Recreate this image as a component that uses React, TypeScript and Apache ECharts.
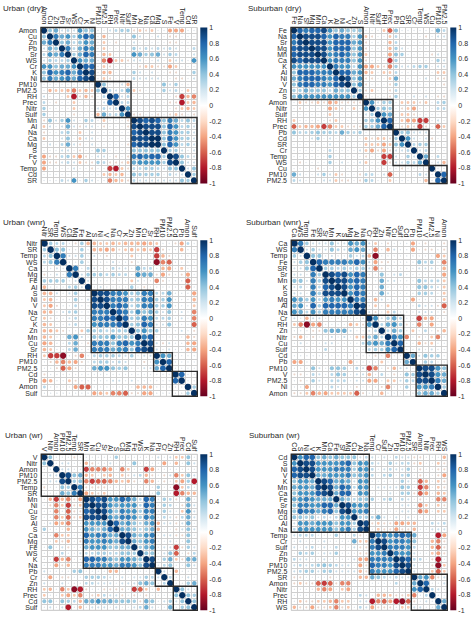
import React, { useEffect, useRef } from "react";
import * as echarts from "echarts";

// Correlations, in tenths, upper triangle of each matrix read row by row (diagonal first).
const urbanDryLabels = ["Amon","Cu","Zn","Pb","Sr","WS","Cr","K","Ni","PM10","PM2.5","RH","Prec","Nitr","Sulf","Mn","Al","Na","Ca","Mg","S","Fe","V","Temp","Cd","SR"];
const urbanDryClusters = [9, 6, 11];
const urbanDryValues = [
  [10,4,5,1,2,1,6,4,4,0,0,1,2,3,3,-1,-2,-1,-2,0,0,-4,-4,-4,0,0],
  [10,7,5,6,3,6,8,7,0,-3,0,0,0,0,4,1,0,0,1,0,-1,-1,0,0,0],
  [10,4,5,2,4,6,5,0,-2,0,-1,0,0,1,0,0,0,0,0,-1,-1,0,0,0],
  [10,7,2,5,7,6,0,-2,0,0,0,0,3,1,2,1,2,1,2,1,0,0,2],
  [10,3,5,8,7,0,-3,-2,0,0,0,6,5,3,4,5,1,3,2,0,0,1],
  [10,6,5,5,0,-5,-8,-2,-2,-1,1,1,0,0,1,0,-2,1,1,0,6],
  [10,8,8,0,-2,-1,0,0,0,0,-1,-2,-2,-1,-1,-4,-2,0,0,0],
  [10,9,0,-3,-3,0,0,0,3,1,0,1,0,0,-1,-1,0,0,3],
  [10,0,-2,-1,0,0,0,2,1,1,1,1,0,0,-1,-1,0,1],
  [10,4,0,0,1,-3,0,0,0,0,0,4,1,3,0,0,0],
  [10,2,1,2,5,-2,-1,0,0,0,3,1,2,0,-2,0],
  [10,8,1,2,0,0,0,0,0,0,0,-1,-7,-3,-5],
  [10,2,2,0,0,0,0,0,0,-1,-1,-8,-2,-3],
  [10,6,0,0,0,0,0,0,0,-1,-2,-3,-2],
  [10,-1,-1,0,0,-1,0,-1,-2,-1,0,-1],
  [10,9,8,9,8,4,7,5,2,4,2],
  [10,9,9,9,4,8,6,2,3,1],
  [10,9,9,4,7,6,3,3,1],
  [10,10,4,8,6,3,3,1],
  [10,4,8,6,2,3,1],
  [10,3,3,1,0,1],
  [10,9,4,2,1],
  [10,4,1,1],
  [10,1,4],
  [10,3],
  [10],
];

const suburbanDryLabels = ["Fe","Na","Sr","Mg","Mn","Ca","K","Al","Ni","V","Zn","S","Amon","Nitr","Sulf","RH","Prec","Pb","Cd","SR","Cr","Temp","WS","Cu","PM10","PM2.5"];
const suburbanDryClusters = [12, 5, 6, 3];
const suburbanDryValues = [
  [10,8,7,8,8,9,6,4,5,4,3,4,0,0,0,-2,-6,4,0,0,0,0,0,0,5,2],
  [10,9,9,9,8,6,8,7,7,3,6,-2,-1,0,0,-2,2,0,0,0,0,-1,0,1,1],
  [10,9,9,9,6,8,8,8,5,6,-1,0,0,0,-3,2,0,0,0,0,0,0,0,0],
  [10,9,9,6,8,8,8,4,6,-1,0,0,0,-3,3,1,0,0,0,0,0,0,0],
  [10,9,6,7,8,7,4,6,-2,0,0,0,-4,4,3,0,0,0,0,-1,1,0],
  [10,6,7,7,7,4,6,-1,0,0,0,-7,3,0,0,0,0,0,0,3,1],
  [10,7,6,6,2,6,-4,-4,-2,-1,-5,3,1,1,2,3,3,0,1,1],
  [10,8,8,5,6,-3,-2,0,-2,-2,2,0,0,0,0,0,0,-2,-2],
  [10,9,4,6,-1,-1,0,0,-2,5,0,0,0,0,1,0,-1,-1],
  [10,4,6,-1,0,0,0,-1,3,0,0,0,0,0,0,0,-1],
  [10,3,-1,-2,0,0,-1,2,0,0,0,0,0,0,0,0],
  [10,-1,0,0,0,-1,3,0,0,1,0,1,0,-1,-1],
  [10,6,1,3,3,0,-2,-2,-2,-1,-2,0,2,3],
  [10,3,4,3,0,-1,-2,-4,0,0,0,2,2],
  [10,6,5,0,-2,-2,-1,0,0,0,0,0],
  [10,8,0,-2,-4,-4,-7,-7,0,1,0],
  [10,0,-1,-2,-1,-7,-1,0,-6,-2],
  [10,3,4,1,1,1,0,0,0],
  [10,6,1,0,1,-1,0,0],
  [10,2,3,3,0,0,0],
  [10,1,2,0,0,0],
  [10,5,0,2,0],
  [10,0,1,-3],
  [10,0,0],
  [10,8],
  [10],
];

const urbanWnrLabels = ["Nitr","SR","Temp","WS","Ca","Mg","Fe","Al","S","Ni","V","Na","Cr","K","Zn","Mn","Cu","Sr","RH","PM10","PM2.5","Cd","Pb","Amon","Sulf"];
const urbanWnrClusters = [8, 10, 3, 4];
const urbanWnrValues = [
  [10,3,2,2,0,-1,3,-3,-3,-2,-2,-3,-2,-3,-3,-3,-4,-3,-2,0,0,-1,-4,2,0],
  [10,4,4,0,0,3,0,-3,-3,-4,-3,-1,-2,-3,-2,-3,-2,-7,-1,0,0,-3,0,0],
  [10,7,1,1,3,0,1,0,-1,0,0,0,-2,0,0,0,-7,-3,-1,0,0,0,0],
  [10,0,0,3,0,0,0,0,1,0,0,-1,0,0,0,-9,-5,-6,0,0,0,0],
  [10,7,0,2,1,0,0,2,1,1,0,5,2,2,0,-3,-4,0,-2,0,0],
  [10,1,3,3,3,2,3,2,2,0,6,5,5,-1,-4,-1,0,-1,-4,0],
  [10,1,0,0,0,0,0,0,-2,1,0,0,-5,-1,0,0,0,-6,0],
  [10,0,1,0,0,0,0,3,0,-1,0,0,0,0,0,0,-6,0],
  [10,9,9,7,7,6,3,4,7,7,2,2,5,0,0,0,-4],
  [10,9,7,7,7,3,4,7,7,3,3,6,0,0,0,-3],
  [10,7,8,7,2,4,7,7,3,3,6,0,0,0,-2],
  [10,8,7,3,6,4,5,3,1,4,0,1,0,-5],
  [10,8,3,4,7,6,2,2,3,0,1,0,-5],
  [10,3,4,8,7,1,1,4,0,0,0,-6],
  [10,4,6,4,3,0,0,0,1,0,-1],
  [10,7,8,0,0,0,0,0,-3,-1],
  [10,9,1,-1,1,0,0,-3,-4],
  [10,1,0,1,0,0,-3,-4],
  [10,6,5,0,0,0,0],
  [10,8,0,0,0,0],
  [10,0,0,0,0],
  [10,8,0,0],
  [10,0,0],
  [10,3],
  [10],
];

const suburbanWnrLabels = ["Ca","WS","Temp","Fe","SR","Sr","Mn","K","S","Mg","Al","Na","Cr","RH","Zn","Nitr","Cu","Sulf","Cd","Pb","PM10","V","PM2.5","Ni","Amon"];
const suburbanWnrClusters = [12, 6, 2, 5];
const suburbanWnrValues = [
  [10,7,3,1,1,1,4,1,1,6,5,6,1,-2,0,-1,0,0,0,-4,0,-1,0,0,-1],
  [10,1,3,1,1,4,2,1,5,6,5,0,-5,0,-3,1,0,0,-4,0,-1,-1,0,-1],
  [10,4,4,0,1,0,0,3,1,2,-3,-9,0,0,0,0,0,0,0,0,0,-4,-2],
  [10,8,7,7,7,7,6,8,6,1,-4,-1,-1,0,0,0,0,4,2,3,0,-5],
  [10,3,3,2,3,2,3,3,1,-5,-1,0,0,0,0,0,1,1,1,0,-3],
  [10,9,8,9,6,8,7,0,0,4,0,1,2,0,0,0,0,0,0,-4],
  [10,9,9,7,8,7,0,0,5,1,1,0,0,0,4,2,2,2,-2],
  [10,9,6,8,7,0,0,5,0,0,0,0,0,4,4,2,1,-2],
  [10,6,8,7,0,0,5,1,0,0,0,0,3,3,2,0,-2],
  [10,7,7,0,-3,1,0,0,0,0,-4,0,0,0,0,-2],
  [10,9,0,-2,0,-2,0,0,0,0,2,1,1,-1,-6],
  [10,1,-1,0,-2,2,0,0,0,1,1,1,0,-1],
  [10,6,1,3,5,2,0,0,-7,-3,-4,0,0],
  [10,2,5,6,3,-1,0,-5,0,-4,0,0],
  [10,2,5,3,0,-2,0,2,0,-1,-3],
  [10,7,6,-5,0,-1,0,-2,-5,0],
  [10,8,0,0,-3,-1,-2,0,0],
  [10,0,0,1,0,1,0,0],
  [10,5,1,4,3,3,0],
  [10,0,3,2,0,0],
  [10,9,9,6,4],
  [10,9,6,5],
  [10,7,5],
  [10,3],
  [10],
];

const urbanWrLabels = ["V","Nitr","Amon","PM10","PM2.5","Temp","SR","Mn","Ni","Cu","Sr","Al","S","Ca","Mg","Fe","WS","K","Na","Pb","Cr","Zn","RH","Prec","Cd","Sulf"];
const urbanWrClusters = [7, 12, 3, 4];
const urbanWrValues = [
  [10,4,0,0,0,-1,0,0,0,0,0,0,3,0,0,0,0,0,0,1,0,1,-2,-2,4,0],
  [10,0,1,1,0,0,-3,-1,0,0,1,0,0,0,4,0,0,0,0,-4,0,-3,0,4,1],
  [10,1,1,0,0,-7,-5,-5,-5,-4,0,-5,-2,0,0,-7,-4,0,0,0,0,0,0,0],
  [10,9,4,5,-3,-2,0,-2,-3,0,-2,-1,1,2,-3,-1,0,-1,1,-5,-2,4,1],
  [10,3,4,-5,-7,-6,-6,-5,-3,-2,-3,-1,0,-5,-3,0,-1,0,-2,-4,3,-8],
  [10,7,-1,-1,-1,-1,0,0,0,0,0,0,0,0,3,0,0,-9,-2,2,0],
  [10,-4,-2,-1,-2,0,0,0,-1,0,1,0,0,4,0,0,-8,-5,-3,-3],
  [10,9,8,9,6,6,8,7,5,2,8,7,0,3,2,-1,0,5,0],
  [10,9,9,6,5,6,6,6,2,8,7,0,3,2,0,-1,5,1],
  [10,9,6,4,7,6,6,3,7,7,0,3,1,0,-2,6,1],
  [10,6,5,7,7,6,3,7,6,0,2,1,-1,2,5,1],
  [10,8,5,6,4,2,5,6,-3,1,1,-1,1,5,0],
  [10,5,5,4,2,4,5,-3,0,0,-1,1,4,1],
  [10,9,5,4,6,7,0,1,1,-1,-1,4,0],
  [10,5,4,6,7,0,0,1,0,0,4,0],
  [10,3,5,6,0,1,1,-7,-1,3,1],
  [10,4,4,0,1,4,-6,0,-1,2],
  [10,9,0,3,5,-2,-1,5,5],
  [10,0,2,4,0,0,4,1],
  [10,1,0,-3,0,0,0],
  [10,2,0,0,1,0],
  [10,0,0,3,5],
  [10,4,1,0],
  [10,4,3],
  [10,4],
  [10],
];

const suburbanWrLabels = ["Cd","S","Ni","V","K","Mn","Ca","Fe","Sr","Mg","Cu","Al","Na","Temp","Cr","Sulf","Zn","Pb","PM10","PM2.5","SR","Amon","Nitr","Prec","RH","WS"];
const suburbanWrClusters = [13, 7, 6];
const suburbanWrValues = [
  [10,6,8,8,4,5,4,5,4,4,4,1,2,1,0,1,0,2,1,1,-1,-1,0,0,0,-3],
  [10,9,9,6,6,6,6,7,8,4,6,6,2,1,0,3,1,2,2,-1,-2,0,0,-2,-1],
  [10,9,6,6,6,7,7,7,3,6,6,2,0,1,2,1,1,3,0,-1,0,0,-1,-1],
  [10,5,5,6,6,6,7,4,5,6,2,0,2,3,0,2,3,0,-1,0,0,-1,-4],
  [10,9,8,5,6,5,1,6,6,0,0,0,0,0,3,1,0,-6,-3,0,-2,-1],
  [10,9,5,8,7,2,6,6,0,1,1,1,1,4,3,0,-7,-5,0,-2,-1],
  [10,5,8,8,1,6,6,0,0,0,1,0,3,3,-1,-6,-4,0,-3,-2],
  [10,5,4,2,4,4,3,0,2,3,0,2,1,0,-1,0,0,-5,-5],
  [10,9,6,6,6,0,0,0,0,0,1,1,0,-5,-2,0,-2,-1],
  [10,6,6,7,0,0,0,0,0,1,1,0,-5,-4,0,-2,-2],
  [10,3,3,2,5,1,0,1,0,1,0,0,0,0,0,0],
  [10,9,-1,-2,-1,-1,-4,-4,-3,-3,0,0,2,1,2],
  [10,0,-2,-1,-1,-4,-1,-1,-3,0,0,1,1,1],
  [10,7,7,6,7,8,7,5,0,0,0,-8,-4],
  [10,9,6,7,7,6,4,0,0,-3,-5,-1],
  [10,7,7,7,6,2,0,0,-3,-6,-1],
  [10,7,6,6,1,0,0,-2,-4,-1],
  [10,9,8,2,2,0,-1,-8,0],
  [10,9,1,0,0,-1,-9,-2],
  [10,1,0,0,-2,-6,-2],
  [10,5,6,-5,-1,1],
  [10,8,0,0,1],
  [10,2,1,0],
  [10,0,0],
  [10,5],
  [10],
];

const colorbarTicks = [-1,-0.8,-0.6,-0.4,-0.2,0,0.2,0.4,0.6,0.8,1];
const palette = ["#67001F","#B2182B","#D6604D","#F4A582","#FDDBC7","#FFFFFF","#D1E5F0","#92C5DE","#4393C3","#2166AC","#053061"];
// Same scale for the dots; the centre is kept faintly visible as the tiny dots are in the reference.
const dotPalette = ["#67001F","#B2182B","#D6604D","#F4A582","#F8C8AE","#D8E0E6","#B8D8EA","#92C5DE","#4393C3","#2166AC","#053061"];

const panels = [
  { title: "Urban (dry)", labels: urbanDryLabels, clusters: urbanDryClusters, values: urbanDryValues, x: 41, y: 27.5, tx: 3, ty: 4.5, barX: 200.3, barW: 7 },
  { title: "Suburban (dry)", labels: suburbanDryLabels, clusters: suburbanDryClusters, values: suburbanDryValues, x: 291, y: 27.5, tx: 248, ty: 4.5, barX: 450.3, barW: 6 },
  { title: "Urban (wnr)", labels: urbanWnrLabels, clusters: urbanWnrClusters, values: urbanWnrValues, x: 41.3, y: 240.3, tx: 3, ty: 218.5, barX: 200.3, barW: 7 },
  { title: "Suburban (wnr)", labels: suburbanWnrLabels, clusters: suburbanWnrClusters, values: suburbanWnrValues, x: 291.3, y: 240.3, tx: 246, ty: 218.5, barX: 450.3, barW: 6 },
  { title: "Urban (wr)", labels: urbanWrLabels, clusters: urbanWrClusters, values: urbanWrValues, x: 41.3, y: 454.3, tx: 5, ty: 431.5, barX: 200.3, barW: 7 },
  { title: "Suburban (wr)", labels: suburbanWrLabels, clusters: suburbanWrClusters, values: suburbanWrValues, x: 291.3, y: 454.3, tx: 249, ty: 431.5, barX: 450.3, barW: 6 },
];

const SIZE = 156;
const FONT = "'Liberation Sans', Arial, sans-serif";

function buildOption() {
  const title: any[] = [];
  const grid: any[] = [];
  const xAxis: any[] = [];
  const yAxis: any[] = [];
  const series: any[] = [];
  const visualMap: any[] = [];

  panels.forEach((p, k) => {
    title.push({
      text: p.title, left: p.tx, top: p.ty, padding: 0,
      textStyle: { fontSize: 8, fontWeight: "normal", color: "#2a2a2a", fontFamily: FONT },
    });
    const cell = SIZE / p.labels.length;
    grid.push({ left: p.x, top: p.y, width: SIZE, height: SIZE, show: true, borderColor: "#c6c6c6", borderWidth: 1, backgroundColor: "#fff" });
    const splitLine = { show: true, interval: 0, lineStyle: { color: "#cfcfcf", width: 1 } };
    const label = { interval: 0, fontSize: 7, color: "#2a2a2a", fontFamily: FONT, hideOverlap: false };
    xAxis.push({
      gridIndex: 2 * k, type: "category", position: "top", data: p.labels,
      axisLine: { show: false }, axisTick: { show: false }, splitLine,
      axisLabel: { ...label, rotate: 90, margin: 3 },
    });
    yAxis.push({
      gridIndex: 2 * k, type: "category", inverse: true, data: p.labels,
      axisLine: { show: false }, axisTick: { show: false }, splitLine,
      axisLabel: { ...label, margin: 4 },
    });
    const data: number[][] = [];
    p.values.forEach((row, i) => {
      row.forEach((v, d) => {
        const j = i + d;
        data.push([j, i, v / 10]);
        if (d > 0) data.push([i, j, v / 10]);
      });
    });
    const seriesIdx = series.length;
    series.push({
      type: "scatter", xAxisIndex: 2 * k, yAxisIndex: 2 * k, data,
      symbol: "circle", z: 3,
      symbolSize: (val: number[]) => Math.max(1.3, cell * 1.05 * Math.sqrt(Math.abs(val[2]))),
      itemStyle: { opacity: 1 },
    });
    visualMap.push({
      show: false, type: "continuous", seriesIndex: seriesIdx, dimension: 2, min: -1, max: 1,
      inRange: { color: dotPalette },
    });
    // Hierarchical cluster boxes, from the cluster sizes
    let start = 0;
    const boxes = p.clusters.map((n) => {
      const b = [start, start + n - 1];
      start += n;
      return b;
    });
    series.push({
      type: "custom", xAxisIndex: 2 * k, yAxisIndex: 2 * k, data: boxes, z: 5, clip: false,
      encode: { x: 0, y: 1 },
      renderItem: (_: any, api: any) => {
        const a = api.value(0);
        const b = api.value(1);
        const tl = api.coord([a, a]);
        const sz = api.size([1, 1]);
        const w = sz[0] * (b - a + 1);
        return {
          type: "rect",
          shape: { x: tl[0] - sz[0] / 2, y: tl[1] - sz[1] / 2, width: w, height: w },
          style: { fill: "none", stroke: "#2c2c2c", lineWidth: 1.4 },
        };
      },
    });

    // Colour bar
    grid.push({ left: p.barX, top: p.y, width: p.barW, height: SIZE });
    xAxis.push({ gridIndex: 2 * k + 1, type: "value", min: 0, max: 1, show: false });
    yAxis.push({
      gridIndex: 2 * k + 1, type: "value", position: "right", min: colorbarTicks[0], max: colorbarTicks[10], interval: 0.2,
      splitLine: { show: false }, axisLine: { show: false },
      axisTick: { show: false },
      axisLabel: { fontSize: 7, color: "#2a2a2a", fontFamily: FONT, margin: 2, formatter: (v: number) => String(Math.round(v * 10) / 10) },
    });
    series.push({
      type: "custom", xAxisIndex: 2 * k + 1, yAxisIndex: 2 * k + 1, data: [[0, 1, 1, -1]], z: 2,
      encode: { x: [0, 2], y: [1, 3] },
      renderItem: (_: any, api: any) => {
        const a = api.coord([api.value(0), api.value(1)]);
        const b = api.coord([api.value(2), api.value(3)]);
        return {
          type: "rect",
          shape: { x: a[0], y: a[1], width: b[0] - a[0], height: b[1] - a[1] },
          style: {
            fill: new echarts.graphic.LinearGradient(0, 0, 0, 1,
              [...palette].reverse().map((color, i) => ({ offset: i / 10, color }))),
          },
        };
      },
    });
  });

  return { animation: false, backgroundColor: "#fff", title, grid, xAxis, yAxis, series, visualMap };
}

export default function App() {
  const ref = useRef<HTMLDivElement>(null);
  useEffect(() => {
    const chart = echarts.init(ref.current!, undefined, { renderer: "svg" });
    chart.setOption(buildOption() as any);
    return () => chart.dispose();
  }, []);
  return <div ref={ref} style={{ position: "absolute", left: 0, top: 0, width: 474, height: 618 }} />;
}
